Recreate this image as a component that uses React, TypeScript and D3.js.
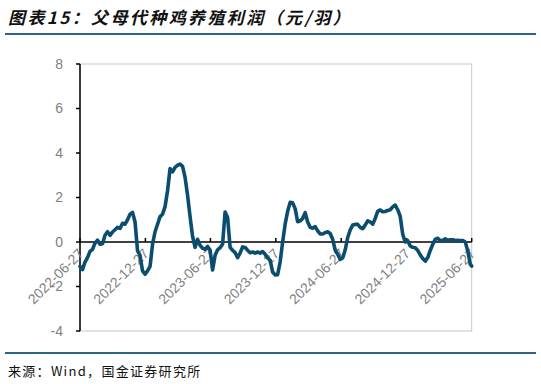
import React from "react";
import * as d3 from "d3";

const startDate = "2022-06-27";
const profit: number[] = [
  -1.1, -1.24, -0.9, -0.7, -0.42, -0.33, -0.05, 0.08, -0.1, -0.08,
  0.3, 0.46, 0.3, 0.45, 0.55, 0.66, 0.61, 0.84, 0.8, 1.0,
  1.25, 1.33, 0.9, -0.4, -0.6, -1.3, -1.45, -1.3, -1.1, -0.1,
  0.46, 0.8, 1.14, 1.25, 1.59, 2.3, 3.3, 3.15, 3.35, 3.45,
  3.5, 3.4, 2.9, 2.1, 1.14, 0.25, -0.24, 0.12, -0.15, -0.28,
  -0.33, -0.2, -0.36, -1.26, -0.6, -0.35, -0.25, -0.1, 1.35, 1.1,
  -0.24, -0.38, -0.48, -0.7, -0.5, -0.22, -0.25, -0.37, -0.48, -0.45,
  -0.5, -0.45, -0.5, -0.43, -0.55, -0.72, -0.82, -1.35, -1.48, -1.47,
  -0.9, 0.0, 0.8, 1.38, 1.78, 1.76, 1.5, 0.91, 0.95, 1.06,
  1.32, 0.9, 0.66, 0.62, 0.69, 0.5, 0.36, 0.36, 0.42, 0.46,
  0.38, 0.12, -0.36, -0.55, -0.78, -0.72, -0.36, 0.2, 0.54, 0.76,
  0.79, 0.79, 0.66, 0.6, 0.76, 0.95, 0.9, 0.8, 1.06, 1.38,
  1.44, 1.36, 1.37, 1.42, 1.45, 1.58, 1.66, 1.45, 1.15, 0.35,
  0.0, 0.06, -0.18, -0.24, -0.26, -0.38, -0.58, -0.74, -0.86, -0.7,
  -0.38, -0.1, 0.12, 0.17, 0.06, 0.08, 0.14, 0.08, 0.1, 0.1,
  0.07, 0.08, 0.06, 0.07, 0.0, -0.4, -1.0, -1.08,
];
const yTicks = [-4, -2, 0, 2, 4, 6, 8];
const xTickLabels = [
  "2022-06-27", "2022-12-27", "2023-06-27", "2023-12-27",
  "2024-06-27", "2024-12-27", "2025-06-27",
];

const title = "图表15：父母代种鸡养殖利润（元/羽）";
const source = "来源：Wind，国金证券研究所";

export default function App() {
  const W = 541, H = 384;
  const left = 80, right = 471.7, top = 64, bottom = 331;
  const parse = d3.timeParse("%Y-%m-%d");
  const start = parse(startDate) as Date;
  const dates = profit.map((_, i) => d3.timeDay.offset(start, 7 * i));
  const x = d3.scaleTime().domain([start, parse("2025-06-27") as Date]).range([left, right]);
  const y = d3.scaleLinear().domain([-4, 8]).range([bottom, top]);
  const line = d3.line<number>()
    .x((_, i) => Math.min(x(dates[i]), right))
    .y((d) => y(d))
    .curve(d3.curveLinear);
  const gray = "#7f7f7f";
  const font = "'Liberation Sans', Arial, sans-serif";
  return (
    <svg width={W} height={H} style={{ position: "absolute", left: 0, top: 0 }}>
      <rect width={W} height={H} fill="#fff" />
      <text x={8} y={24} fontSize={17} fontWeight="bold" fontStyle="italic" letterSpacing={2.4}
        fontFamily="'Noto Sans CJK SC', sans-serif" fill="#111">{title}</text>
      <line x1={5} x2={536} y1={34} y2={34} stroke="#2e6388" strokeWidth={2} />
      <line x1={5} x2={536} y1={353} y2={353} stroke="#2e6388" strokeWidth={2} />
      <text x={8} y={376} fontSize={13} letterSpacing={1.3}
        fontFamily="'Noto Sans CJK SC', sans-serif" fill="#111">{source}</text>
      <rect x={left} y={top} width={right - left} height={bottom - top} fill="none" stroke="#c8c8c8" strokeWidth={1} />
      <line x1={left} x2={left} y1={top} y2={bottom} stroke="#000" strokeWidth={1.5} />
      {yTicks.map((t) => (
        <g key={t}>
          <line x1={left - 4} x2={left} y1={y(t)} y2={y(t)} stroke="#000" strokeWidth={1.5} />
          <text x={63} y={y(t)} dy="0.35em" textAnchor="end" fontSize={14} fontFamily={font} fill={gray}>{t}</text>
        </g>
      ))}
      <line x1={left} x2={right} y1={y(0)} y2={y(0)} stroke="#000" strokeWidth={1.5} />
      {xTickLabels.map((s) => {
        const tx = x(parse(s) as Date);
        return (
          <g key={s}>
            <line x1={tx} x2={tx} y1={y(0) - 4} y2={y(0)} stroke="#000" strokeWidth={1.5} />
            <text transform={`translate(${tx + 1},${y(0) + 9}) rotate(-45)`} textAnchor="end" dy="0.35em"
              fontSize={14} fontFamily={font} fill={gray}>{s}</text>
          </g>
        );
      })}
      <path d={line(profit) || ""} fill="none" stroke="#0b4d6e" strokeWidth={3.6} strokeLinejoin="round" strokeLinecap="round" />
    </svg>
  );
}
